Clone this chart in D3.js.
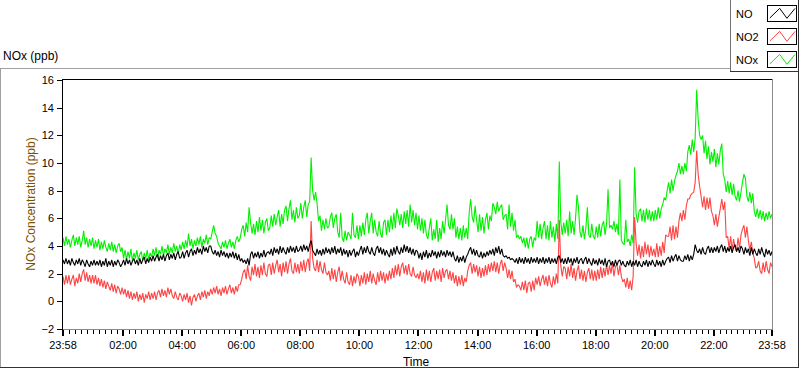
<!DOCTYPE html>
<html><head><meta charset="utf-8">
<script src="https://cdn.jsdelivr.net/npm/d3@7"></script>
<style>
html,body{margin:0;padding:0;background:#fff;}
svg{display:block;font-family:"Liberation Sans",Arial,sans-serif;}
</style></head>
<body><svg id="c" width="800" height="369"></svg>
<script>
// ---------------- DATA (3-minute samples starting 23:58, one row per hour) ----------------
const sampleMinutes = 3;
const seriesNames = ["NO", "NO2", "NOx"];
const NOx = [
 4.6,4.0,4.7,4.1,4.5,3.9,4.4,4.8,4.0,4.6,4.1,4.7,3.9,4.4,5.1,4.1,4.6,3.9,4.5,4.0,
 4.6,3.8,4.4,3.9,4.5,3.7,4.3,3.8,4.4,3.9,3.6,4.2,3.7,4.3,3.6,4.1,3.5,4.0,4.2,3.6,
 3.9,3.1,3.7,3.0,3.6,3.1,3.8,2.9,3.5,3.1,3.7,3.0,3.4,3.6,2.9,3.5,3.1,3.7,3.0,3.5,
 3.2,3.8,3.3,3.9,3.1,3.7,3.4,4.0,3.3,3.8,3.5,4.1,3.4,3.9,3.5,4.2,3.6,4.0,3.4,4.1,
 3.7,4.3,3.8,4.4,3.9,4.9,4.0,4.5,3.8,4.4,4.0,4.6,4.1,4.7,3.9,4.5,4.2,4.8,4.1,4.6,
 4.5,5.0,5.5,4.9,4.7,4.2,4.0,3.8,4.3,3.9,4.4,3.8,4.2,4.5,3.9,4.3,3.8,4.4,4.7,4.3,
 4.6,5.2,5.5,4.7,5.7,5.0,6.8,5.7,4.9,5.6,4.8,5.8,5.0,6.1,5.1,5.9,4.9,5.7,6.0,5.1,
 5.3,6.2,5.4,6.3,5.5,6.1,6.6,5.4,6.3,5.6,6.6,6.9,5.8,6.7,7.3,5.9,6.6,5.7,6.8,6.0,
 6.2,7.1,6.0,6.8,7.3,6.1,7.0,7.2,10.4,8.0,7.3,7.9,7.1,5.8,6.2,5.1,5.9,5.2,6.0,5.3,
 5.4,6.1,6.4,5.3,6.0,6.3,5.0,4.6,6.4,4.6,4.3,5.1,4.4,5.0,4.8,4.5,6.4,4.8,4.6,5.5,
 4.5,5.5,4.7,5.7,4.8,5.9,6.4,4.9,5.8,6.4,4.9,5.9,5.0,4.7,5.8,4.9,4.6,5.7,5.9,4.8,
 5.9,5.0,6.2,5.2,6.4,5.3,6.7,6.2,5.5,6.3,5.3,6.5,5.6,6.6,5.4,7.0,5.7,6.6,5.5,6.4,
 5.2,6.2,5.1,6.0,4.9,5.9,4.8,4.5,5.3,6.0,4.4,5.2,4.5,5.9,4.3,5.3,4.5,5.8,4.9,5.9,
 7.0,5.5,5.2,6.3,5.2,6.0,4.6,5.4,4.5,5.3,4.4,5.5,4.6,5.3,4.5,6.4,7.4,6.1,5.7,6.9,
 5.9,5.0,6.3,5.1,6.1,4.9,5.9,6.4,5.2,6.2,5.8,7.1,6.8,6.3,7.2,6.5,6.8,7.0,5.9,6.2,
 6.3,5.2,7.0,5.4,6.4,5.1,5.9,4.6,4.8,4.5,4.7,4.2,4.6,3.9,4.6,3.8,4.5,4.7,3.9,4.6,
 4.4,5.8,4.6,5.6,4.5,5.3,5.8,4.5,5.5,4.4,5.8,4.6,5.4,4.3,5.6,4.5,10.1,5.8,4.8,5.7,
 4.9,5.9,4.7,6.5,4.9,5.8,4.8,6.0,7.7,6.8,5.0,4.6,5.5,4.5,5.3,6.8,4.8,4.6,5.6,4.7,
 4.5,5.4,4.6,5.6,4.7,5.5,5.8,4.8,5.6,8.1,5.3,5.5,5.2,5.8,5.0,5.6,4.8,8.8,4.4,4.2,
 4.1,5.9,4.3,4.5,4.0,4.8,4.2,9.7,6.3,5.7,6.5,6.7,5.8,6.6,5.7,6.7,5.9,6.6,5.8,6.5,
 5.8,6.6,5.9,6.8,6.0,6.7,7.0,7.5,7.3,8.0,8.6,7.8,8.8,8.0,8.7,9.1,9.4,10.0,9.2,9.8,
 9.2,10.0,9.4,10.8,11.3,10.6,11.7,10.8,11.8,15.3,13.2,12.0,11.7,12.0,10.7,11.6,10.3,11.2,9.9,10.8,
 10.1,11.0,9.7,10.7,9.9,10.9,11.4,9.2,8.8,7.9,8.7,7.8,8.6,7.7,8.5,7.6,7.3,8.0,7.2,7.9,
 8.6,9.2,8.9,7.6,7.2,7.9,7.1,7.8,6.5,6.1,6.7,6.0,6.6,5.9,6.5,5.8,6.4,5.9,6.5,6.0,
 6.3
];
const NO = [
 3.0,2.7,3.1,2.7,3.0,2.6,3.1,2.8,2.6,3.0,2.7,3.1,2.6,3.0,2.8,2.5,3.0,2.7,2.5,2.9,
 2.6,3.0,2.6,2.9,2.6,3.0,2.5,2.9,2.6,3.1,2.5,2.9,2.6,3.0,2.5,2.9,2.6,3.0,2.8,2.5,
 2.7,3.0,2.6,3.1,2.7,3.0,2.6,2.9,3.1,2.7,3.0,2.6,3.1,2.7,3.0,3.2,2.7,3.1,2.8,3.2,
 2.9,3.3,2.9,3.2,3.4,2.9,3.3,3.0,3.4,2.9,3.3,3.5,3.0,3.4,3.1,3.5,3.0,3.4,3.6,3.1,
 3.2,3.6,3.1,3.5,3.7,3.2,3.6,3.8,3.3,3.7,3.4,3.9,3.5,3.8,3.4,4.0,3.6,3.9,3.5,4.0,
 4.0,3.6,3.4,3.7,3.3,3.6,3.2,3.7,3.3,3.6,3.2,3.5,3.1,3.5,3.2,3.6,3.1,3.5,3.0,3.4,
 2.9,3.1,2.8,3.0,2.7,3.1,2.6,3.4,3.6,3.1,3.5,3.2,3.6,3.1,3.5,3.2,3.7,3.2,3.5,3.6,
 3.4,3.8,3.3,3.9,3.5,3.8,3.4,4.0,3.5,3.9,3.6,3.4,3.9,3.5,4.0,3.6,3.9,3.5,4.0,3.6,
 3.7,4.0,3.6,4.1,3.7,4.0,3.6,4.1,4.4,3.7,3.5,3.3,3.8,3.4,3.7,3.3,3.8,3.4,3.9,3.5,
 3.8,3.4,3.9,3.5,4.0,3.4,3.8,3.5,3.9,3.3,3.8,3.4,3.7,3.2,3.7,3.3,3.6,3.8,3.2,3.6,
 3.3,3.7,4.0,3.4,3.9,3.5,4.0,3.6,3.4,3.9,3.5,3.3,3.8,4.0,3.5,3.9,3.4,3.8,3.3,3.7,
 3.4,3.2,3.8,3.3,3.9,3.4,4.0,3.6,3.4,3.9,3.5,4.1,3.6,4.0,3.5,3.9,3.4,3.8,3.3,3.7,
 3.6,3.1,3.5,3.0,3.6,3.2,3.7,3.1,3.5,3.2,3.7,3.3,3.6,3.1,3.6,3.2,3.7,3.3,3.6,3.2,
 3.7,3.3,3.6,3.2,3.6,3.1,2.9,3.3,2.8,3.2,2.9,3.3,2.8,3.2,3.4,3.7,3.9,3.4,3.8,3.3,
 3.7,3.3,3.2,3.6,3.1,3.5,3.2,3.6,3.3,3.7,3.4,3.8,3.3,3.9,3.5,4.0,3.4,3.8,3.3,3.2,
 3.3,3.1,3.2,3.0,3.1,3.0,2.8,3.1,2.7,3.2,2.8,3.1,2.7,3.2,2.8,3.1,2.7,3.2,2.8,3.1,
 2.8,3.2,2.7,3.1,2.8,3.2,2.7,3.1,2.8,3.2,2.7,3.1,2.8,3.1,2.7,3.2,3.3,2.8,3.1,2.7,
 3.1,2.7,3.2,2.8,3.1,2.6,3.1,2.8,3.2,2.7,3.0,3.1,2.7,3.0,3.2,2.7,3.1,2.8,2.6,3.1,
 2.7,3.0,2.6,3.1,2.7,3.0,2.6,3.1,2.5,2.9,3.0,2.6,2.9,2.5,3.0,2.6,2.9,3.0,2.6,2.9,
 2.6,2.5,2.9,2.6,3.0,2.5,2.9,2.6,3.0,2.5,2.9,2.6,2.5,2.9,2.6,3.0,2.5,2.9,2.6,3.0,
 2.7,2.5,3.0,2.6,2.9,2.5,3.0,2.6,2.9,3.1,3.2,2.8,3.3,2.9,3.2,3.4,2.9,3.3,3.0,2.9,
 2.9,3.3,3.0,3.4,2.9,3.3,3.0,3.4,4.1,3.7,3.5,3.8,3.4,3.9,3.5,3.4,3.8,4.0,3.5,3.9,
 3.5,3.9,3.6,4.0,3.5,3.9,4.1,3.6,4.0,3.5,3.9,3.6,4.0,3.5,3.9,4.1,3.6,3.9,3.5,4.0,
 3.8,3.4,3.9,3.5,3.8,3.3,3.9,3.4,3.8,3.5,3.3,3.8,3.4,3.9,3.5,3.2,3.8,3.4,3.7,3.3,
 3.6
];
const NO2 = [
 1.8,1.2,1.9,1.3,1.9,1.2,1.6,1.9,1.1,1.7,1.3,2.0,1.4,2.0,2.3,1.5,2.1,1.4,1.9,1.3,
 1.9,1.3,1.9,1.2,1.7,1.1,1.6,1.0,1.5,0.9,1.4,1.1,0.8,1.3,0.7,1.2,0.6,1.1,0.9,0.5,
 1.0,0.5,0.9,0.3,0.8,0.2,0.7,0.1,0.6,0.2,0.7,0.0,0.5,0.1,0.6,-0.1,0.5,0.2,0.7,0.1,
 0.6,0.2,0.7,0.1,0.6,0.8,0.3,0.9,0.4,0.8,0.3,1.0,0.5,0.9,0.4,0.2,0.7,0.3,0.1,0.6,
 0.4,0.0,0.5,0.1,0.6,-0.1,0.4,-0.3,0.3,0.5,0.0,0.4,0.6,0.1,0.7,0.3,0.8,0.2,0.7,0.4,
 0.9,0.5,1.0,0.6,1.1,0.5,0.9,0.4,1.0,0.6,1.1,0.5,0.9,1.2,0.6,1.0,0.5,1.1,0.7,1.2,
 1.2,1.6,2.1,2.3,1.6,2.6,1.8,1.5,2.5,1.9,2.7,1.8,2.5,1.7,2.6,1.9,2.8,2.0,1.8,2.6,
 2.7,1.9,2.8,2.0,2.6,3.0,2.1,2.7,1.8,2.8,2.1,2.9,2.0,2.7,3.1,2.2,2.0,2.8,2.1,2.7,
 2.0,2.9,2.2,3.0,2.1,2.8,3.1,2.2,5.8,3.1,2.4,2.2,3.0,2.1,2.9,2.3,2.0,2.8,2.1,1.9,
 2.2,1.5,2.4,1.6,2.3,1.4,2.1,2.5,1.5,2.2,1.6,1.3,2.1,1.4,1.2,1.9,1.1,1.8,1.3,2.0,
 1.8,1.1,1.9,1.3,2.1,1.2,2.0,1.4,2.2,1.3,2.0,1.5,1.2,2.1,1.4,2.2,1.5,2.1,1.3,2.0,
 1.5,2.2,1.6,2.4,1.7,2.6,1.9,2.7,1.8,2.5,2.8,2.0,2.6,1.9,2.7,2.0,1.8,2.5,1.9,1.7,
 2.0,1.6,2.2,1.4,2.1,1.3,2.3,1.5,2.2,1.4,2.1,2.4,1.5,2.2,1.6,2.3,1.4,2.4,1.7,2.2,
 2.3,1.6,2.2,1.5,2.1,1.3,1.9,1.1,1.8,1.2,1.9,1.1,1.7,1.4,2.2,2.6,2.8,2.0,2.7,2.1,
 2.6,1.8,2.5,1.7,2.4,1.8,2.6,1.9,2.7,2.1,2.8,2.2,2.9,2.1,2.8,2.0,2.7,3.0,2.2,2.8,
 2.4,1.7,2.3,1.6,2.2,1.4,1.6,1.0,1.2,1.1,0.8,1.4,0.8,1.5,0.6,1.3,1.4,0.7,1.5,0.8,
 1.7,1.2,1.8,1.1,1.6,1.9,1.2,1.8,1.1,1.9,1.3,1.0,1.8,1.2,2.0,1.3,5.9,2.6,1.8,2.5,
 2.4,1.6,2.5,1.8,2.7,1.7,2.4,1.5,2.2,2.6,1.6,2.3,1.5,2.2,1.4,2.1,2.4,1.6,2.3,1.5,
 2.2,1.5,2.3,1.6,2.5,1.7,2.4,1.8,2.7,1.9,2.6,2.0,2.8,1.8,2.5,2.7,1.9,2.6,1.8,1.4,
 1.6,1.0,1.7,0.9,1.5,0.8,1.8,6.1,4.2,3.3,4.1,3.1,4.0,3.2,4.3,3.4,4.1,3.2,4.0,3.3,
 3.8,3.2,4.2,3.2,4.0,3.3,4.3,3.5,4.8,4.7,4.7,5.4,4.4,5.5,4.5,5.4,4.6,5.8,6.4,5.8,
 6.6,5.9,6.9,7.4,7.4,7.7,7.8,7.9,8.6,10.9,9.2,8.3,7.6,6.8,7.6,6.6,7.5,6.7,7.5,6.5,
 6.2,5.5,6.3,5.4,6.1,6.7,7.4,6.6,7.2,4.6,4.7,3.8,4.7,3.7,4.5,3.9,3.6,4.6,3.8,4.8,
 5.2,5.5,4.6,5.4,4.4,3.7,4.3,3.5,3.1,2.4,2.5,2.9,2.2,2.0,2.8,2.1,2.9,2.3,2.0,2.8,
 2.5
];
const yTicks = [-2, 0, 2, 4, 6, 8, 10, 12, 14, 16];
const xTickLabels = ["23:58","02:00","04:00","06:00","08:00","10:00","12:00","14:00","16:00","18:00","20:00","22:00","23:58"];
const xTickTimes = [[23,58,0],[2,0,1],[4,0,1],[6,0,1],[8,0,1],[10,0,1],[12,0,1],[14,0,1],[16,0,1],[18,0,1],[20,0,1],[22,0,1],[23,58,1]];
const title = "NOx (ppb)";
const yLabel = "NOx Concentration (ppb)";
const xLabel = "Time";
const colors = {NO: "#000000", NO2: "#ff4444", NOx: "#00f000"};

// ---------------- CHART ----------------
const svg = d3.select("#c");
const start = new Date(2000, 0, 1, 23, 58);
const end = new Date(2000, 0, 2, 23, 58);
const x = d3.scaleTime().domain([start, end]).range([63, 772]);
const y = d3.scaleLinear().domain([-2, 16]).range([329, 80]);
const timeAt = i => d3.timeMinute.offset(start, i * sampleMinutes);

// outer frame (raised look)
svg.append("line").attr("x1",0.5).attr("y1",68.5).attr("x2",0.5).attr("y2",368).attr("stroke","#a0a0a0");
svg.append("line").attr("x1",0).attr("y1",68.5).attr("x2",730).attr("y2",68.5).attr("stroke","#a0a0a0");
svg.append("line").attr("x1",798.5).attr("y1",72).attr("x2",798.5).attr("y2",368).attr("stroke","#333");
svg.append("line").attr("x1",0).attr("y1",367.5).attr("x2",799).attr("y2",367.5).attr("stroke","#333");

// title
svg.append("text").attr("x",3).attr("y",60).attr("font-size",12).attr("fill","#000").text(title);

// plot area frame
const g = svg.append("g").attr("shape-rendering","crispEdges");
g.append("line").attr("x1",772.5).attr("y1",79).attr("x2",772.5).attr("y2",330).attr("stroke","#8a8a8a");
g.append("line").attr("x1",62).attr("y1",329.5).attr("x2",773).attr("y2",329.5).attr("stroke","#8a8a8a");

// data lines (green under red under black)
svg.append("clipPath").attr("id","pc").append("rect").attr("x",63).attr("y",80).attr("width",709).attr("height",249);
const lineGen = arr => d3.line().x((d,i) => x(timeAt(i))).y(d => y(d))(arr);
const plotG = svg.append("g").attr("clip-path","url(#pc)");
[["NOx",NOx],["NO2",NO2],["NO",NO]].forEach(([k,arr]) => {
  plotG.append("path").attr("d", lineGen(arr)).attr("fill","none")
    .attr("stroke", colors[k]).attr("stroke-width",1.1).attr("stroke-linejoin","bevel");
});

g.append("line").attr("x1",62).attr("y1",79.5).attr("x2",772).attr("y2",79.5).attr("stroke","#000");
g.append("line").attr("x1",62.5).attr("y1",79).attr("x2",62.5).attr("y2",330).attr("stroke","#000");

// y axis
const yAxis = svg.append("g").attr("transform","translate(62,0)")
  .call(d3.axisLeft(y).tickValues(yTicks).tickSize(5).tickPadding(3).tickFormat(d3.format("d")));
yAxis.select(".domain").remove();
yAxis.selectAll("line").attr("stroke","#000").attr("shape-rendering","crispEdges");
yAxis.selectAll("text").attr("font-size",11).attr("font-family","Liberation Sans, Arial, sans-serif").attr("fill","#000");

// x axis: major + minor ticks
const majors = xTickTimes.map(([h,m,dd]) => new Date(2000,0,1+dd,h,m));
const minors = [];
for (let j = 0; j < majors.length - 1; j++) {
  const a = +majors[j], b = +majors[j+1];
  for (let k = 1; k < 10; k++) minors.push(new Date(a + (b - a) * k / 10));
}
const xAxisG = svg.append("g").attr("shape-rendering","crispEdges");
xAxisG.selectAll("line.minor").data(minors).enter().append("line")
  .attr("x1", d => Math.round(x(d)) + 0.5).attr("x2", d => Math.round(x(d)) + 0.5)
  .attr("y1", 330).attr("y2", 334).attr("stroke","#000");
xAxisG.selectAll("rect.major").data(majors).enter().append("rect")
  .attr("x", d => Math.round(x(d)) - 1).attr("y",330).attr("width",2).attr("height",6).attr("fill","#000");
svg.append("g").selectAll("text").data(majors).enter().append("text")
  .attr("x", d => x(d)).attr("y", 348.5).attr("text-anchor","middle").attr("font-size",11)
  .attr("fill","#000").text((d,i) => xTickLabels[i]);

// axis titles
svg.append("text").attr("x",416).attr("y",365.5).attr("text-anchor","middle").attr("font-size",12).text(xLabel);
svg.append("text").attr("transform","translate(31,204) rotate(-90)").attr("y",4).attr("text-anchor","middle")
  .attr("font-size",12).attr("fill","#7b5300").text(yLabel);

// legend
const lg = svg.append("g").attr("shape-rendering","crispEdges");
lg.append("line").attr("x1",730.5).attr("y1",0).attr("x2",730.5).attr("y2",72).attr("stroke","#707070");
lg.append("line").attr("x1",730).attr("y1",71.5).attr("x2",799).attr("y2",71.5).attr("stroke","#333");
lg.append("line").attr("x1",798.5).attr("y1",0).attr("x2",798.5).attr("y2",72).attr("stroke","#333");
const legendKeys = ["NO","NO2","NOx"];
legendKeys.forEach((k,i) => {
  const top = 5 + i * 23;
  svg.append("text").attr("x",736).attr("y",top + 12.5).attr("font-size",11).attr("fill","#000").text(k);
  lg.append("rect").attr("x",767.5).attr("y",top + 0.5).attr("width",29).attr("height",16)
    .attr("fill","#fff").attr("stroke","#000");
  const pts = [[0.08,0.78],[0.42,0.18],[0.67,0.8],[0.95,0.18]].map(([a,b]) => [767.5 + a*29, top + 0.5 + b*16]);
  svg.append("path").attr("d", d3.line()(pts)).attr("fill","none").attr("stroke", colors[k]).attr("stroke-width",1);
});
</script></body></html>
